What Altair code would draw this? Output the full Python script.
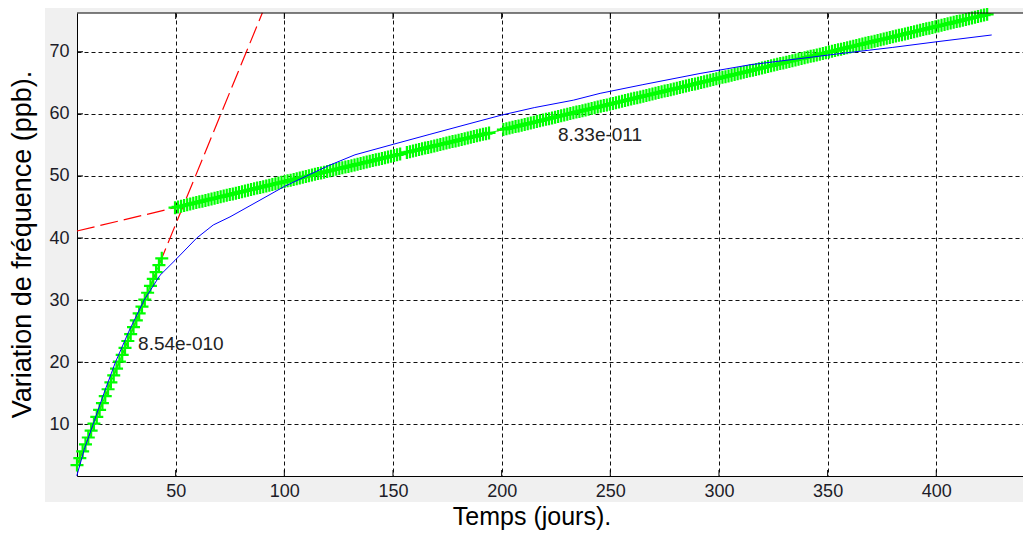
import altair as alt
import numpy as np
import pandas as pd

# ---------------- data ----------------
# measured frequency variation (blue curve)
blue_x = [4.5, 8, 12, 17, 22.3, 28.5, 35.5, 42.8, 49.7, 59.7, 67.3, 75, 88.8, 100,
          110.3, 120, 132.5, 150.2, 167, 185, 200, 215, 233, 245.3, 265, 291.3,
          314.3, 335, 355.7, 380, 400, 425.5]
blue_y = [1.7, 6, 10, 15, 20, 25, 30, 34, 36.4, 40, 42.1, 43.4, 46.1, 48.3,
          50, 51.6, 53.4, 55.1, 56.7, 58.4, 59.8, 61, 62.2, 63.3, 64.7, 66.5,
          67.9, 68.8, 69.7, 70.7, 71.6, 72.7]

# linear fits (slope in ppb/day, as annotated), intercepts
fit_slope = [0.854, 0.0833]
fit_intercept = [-0.5, 40.75]
fit_labels = ["8.54e-010", "8.33e-011"]
fit_line_start = [4.6, 4.6]
fit_line_end = [89.9, 425.0]

seg1_span = [4.6, 44.4, 1.3]
seg2_spans = [[49.7, 154.1, 1.4], [156.4, 195.1, 1.4], [200.8, 424.8, 1.4]]

# annotation positions (data units)
label_x = [32.7, 225.9]
label_y = [22.9, 56.6]

x_ticks = [50, 100, 150, 200, 250, 300, 350, 400]
y_ticks = [10, 20, 30, 40, 50, 60, 70]
x_domain = [4.6, 439.9]
y_domain = [1.67, 76.24]

# ---------------- tables ----------------
blue_df = pd.DataFrame({"x": blue_x, "y": blue_y})

red_rows = []
for i in range(2):
    for xx in (fit_line_start[i], fit_line_end[i]):
        red_rows.append({"x": xx, "y": fit_slope[i] * xx + fit_intercept[i], "seg": i})
red_df = pd.DataFrame(red_rows)

green_rows = []
for xx in np.arange(*seg1_span):
    green_rows.append({"x": float(xx), "y": fit_slope[0] * xx + fit_intercept[0], "seg": 0})
for span in seg2_spans:
    for xx in np.arange(*span):
        green_rows.append({"x": float(xx), "y": fit_slope[1] * xx + fit_intercept[1], "seg": 1})
green_df = pd.DataFrame(green_rows)

label_df = pd.DataFrame({"x": label_x, "y": label_y, "t": fit_labels})
xt_df = pd.DataFrame({"x": x_ticks})
yt_df = pd.DataFrame({"y": y_ticks})
one = pd.DataFrame({"a": [0]})

# ---------------- styling ----------------
W, H = 946, 463
FONT = "Liberation Sans"
xs = alt.Scale(domain=x_domain, nice=False, zero=False)
ys = alt.Scale(domain=y_domain, nice=False, zero=False)

x_axis = alt.Axis(values=x_ticks, title=None, grid=True, gridDash=[4, 3], gridColor="#111111",
                  gridOpacity=1, gridWidth=1, ticks=False, labelFontSize=18, labelFont=FONT,
                  labelColor="#1c1c28", labelPadding=6, domainColor="#000000", domainWidth=1,
                  labelFlush=False)
y_axis = alt.Axis(values=y_ticks, title=None, grid=True, gridDash=[4, 3], gridColor="#111111",
                  gridOpacity=1, gridWidth=1, ticks=False, labelFontSize=18, labelFont=FONT,
                  labelColor="#1c1c28", labelPadding=8, domainColor="#000000", domainWidth=1,
                  labelFlush=False)


def X(f):
    return alt.X(f, type="quantitative", scale=xs, axis=x_axis)


def Y(f):
    return alt.Y(f, type="quantitative", scale=ys, axis=y_axis)


red = alt.Chart(red_df).mark_line(color="#ff0000", strokeWidth=1.2, strokeDash=[18, 6]).encode(
    x=X("x"), y=Y("y"), detail="seg:N")

green_line = alt.Chart(green_df).mark_line(color="#00ff00", strokeWidth=1).encode(
    x=X("x"), y=Y("y"), detail="seg:N")
green_pts = alt.Chart(green_df).mark_point(
    shape="M-1,0H1M0,-1V1", filled=False, color="#00ff00", strokeWidth=2.2, size=169, opacity=1
).encode(x=X("x"), y=Y("y"))

blue = alt.Chart(blue_df).mark_line(color="#0000ff", strokeWidth=1).encode(x=X("x"), y=Y("y"))

labels = alt.Chart(label_df).mark_text(
    align="left", baseline="middle", font=FONT, fontSize=19, color="#222222"
).encode(x=X("x"), y=Y("y"), text="t:N")

# inward ticks and top frame line
bt = alt.Chart(xt_df).mark_rule(color="#000000").encode(
    x=X("x"), y=alt.value(H), y2=alt.value(H - 6))
tt = alt.Chart(xt_df).mark_rule(color="#000000").encode(
    x=X("x"), y=alt.value(0), y2=alt.value(6))
lt = alt.Chart(yt_df).mark_rule(color="#000000").encode(
    y=Y("y"), x=alt.value(0), x2=alt.value(6))
top_line = alt.Chart(one).mark_rule(color="#000000").encode(
    x=alt.value(0), x2=alt.value(W), y=alt.value(0))

# white page area outside the grey figure panel
white_left = alt.Chart(one).mark_rect(color="#ffffff").encode(
    x=alt.value(-70), x2=alt.value(-32), y=alt.value(-6), y2=alt.value(H + 60))
white_bottom = alt.Chart(one).mark_rect(color="#ffffff").encode(
    x=alt.value(-70), x2=alt.value(W + 2), y=alt.value(489), y2=alt.value(H + 60))

x_title = alt.Chart(one).mark_text(
    text="Temps (jours).", font=FONT, fontSize=25, color="#000000", align="center",
    baseline="alphabetic").encode(x=alt.value(455), y=alt.value(512))
y_title = alt.Chart(one).mark_text(
    text="Variation de fréquence (ppb).", font=FONT, fontSize=27, color="#000000",
    align="center", baseline="middle", angle=270).encode(x=alt.value(-54), y=alt.value(H / 2))

chart = alt.layer(
    white_left, white_bottom, red, green_line, green_pts, blue, labels,
    bt, tt, lt, top_line, x_title, y_title
).properties(
    width=W, height=H,
    padding={"left": 69, "top": 5, "right": 0, "bottom": 54},
    autosize=alt.AutoSizeParams(type="none"),
    background="#f0f0f0",
).configure_view(stroke=None, fill="#ffffff")

chart.save("out.html", embed_options={"renderer": "svg", "actions": False})
